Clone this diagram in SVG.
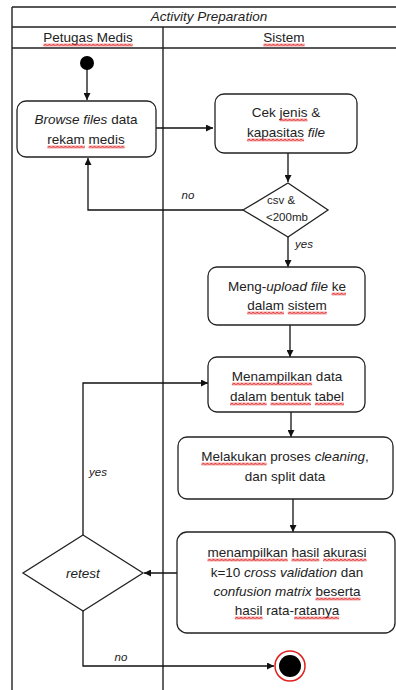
<svg xmlns="http://www.w3.org/2000/svg" width="396" height="690" viewBox="0 0 396 690">
<style>
text{font-family:"Liberation Sans",Arial,sans-serif;font-size:13.5px;fill:#222;text-anchor:middle}
.it{font-style:italic}
.sm{font-size:11.5px;text-anchor:start}
.lbl{font-size:11.5px;font-style:italic}
.wv{fill:url(#wave)}
.frame{stroke:#222;stroke-width:1.4;fill:none}
.box{fill:#fff;stroke:#222;stroke-width:1.3}
.ln{fill:none;stroke:#111;stroke-width:1.3}
</style>
<defs>
<marker id="ah" viewBox="0 0 10 10" refX="10" refY="5" markerWidth="7" markerHeight="7" markerUnits="userSpaceOnUse" orient="auto">
<path d="M0,0 L10,5 L0,10 z" fill="#111"/>
</marker>
<pattern id="wave" patternUnits="userSpaceOnUse" width="4" height="3">
<path d="M0,2.5 L2,0.5 L4,2.5" fill="none" stroke="#e02020" stroke-width="1.2"/>
</pattern>
</defs>
<rect width="396" height="690" fill="#fff"/>
<g id="swimlanes">
<path class="frame" d="M12,7 H396 M12,27 H396 M12,48 H396 M12,7 V690 M163,27 V690"/>
<text class="it" x="209" y="21">Activity Preparation</text>
<text x="88" y="42">Petugas Medis</text>
<text x="284" y="42">Sistem</text>
</g>
<g id="connectors">
<path class="ln" d="M87,63 V100" marker-end="url(#ah)"/>
<path class="ln" d="M156,128 H213" marker-end="url(#ah)"/>
<path class="ln" d="M288,153 V182" marker-end="url(#ah)"/>
<path class="ln" d="M243,210 H88 V158" marker-end="url(#ah)"/>
<path class="ln" d="M288,237 V267" marker-end="url(#ah)"/>
<path class="ln" d="M290,325 V357" marker-end="url(#ah)"/>
<path class="ln" d="M291,412 V437" marker-end="url(#ah)"/>
<path class="ln" d="M293,499 V532" marker-end="url(#ah)"/>
<path class="ln" d="M177,573 H144" marker-end="url(#ah)"/>
<path class="ln" d="M83,535 V383 H208" marker-end="url(#ah)"/>
<path class="ln" d="M83,611 V666 H274" marker-end="url(#ah)"/>
<text class="lbl" x="188" y="199">no</text>
<text class="lbl" x="304" y="248">yes</text>
<text class="lbl" x="98" y="476">yes</text>
<text class="lbl" x="121" y="661">no</text>
</g>
<g id="start">
<circle cx="87" cy="63" r="7" fill="#000"/>
</g>
<g id="browse">
<rect class="box" x="17" y="101" width="139" height="56" rx="9"/>
<text x="86" y="124"><tspan class="it">Browse files</tspan> data</text>
<text x="86" y="144">rekam medis</text>
</g>
<g id="cek">
<rect class="box" x="215" y="94" width="142" height="59" rx="9"/>
<text x="286" y="117">Cek jenis &amp;</text>
<text x="286" y="137">kapasitas <tspan class="it">file</tspan></text>
</g>
<g id="check">
<polygon class="box" points="288,183 328,210 288,237 243,210"/>
<text class="sm" x="267" y="204">csv &amp;</text>
<text class="sm" x="266" y="221">&lt;200mb</text>
</g>
<g id="upload">
<rect class="box" x="208" y="267" width="157" height="58" rx="9"/>
<text x="287" y="291">Meng-<tspan class="it">upload file</tspan> ke</text>
<text x="287" y="310">dalam sistem</text>
</g>
<g id="tabel">
<rect class="box" x="208" y="357" width="157" height="55" rx="9"/>
<text x="287" y="381">Menampilkan data</text>
<text x="287" y="401">dalam bentuk tabel</text>
</g>
<g id="cleaning">
<rect class="box" x="178" y="437" width="215" height="62" rx="9"/>
<text x="285" y="461">Melakukan proses <tspan class="it">cleaning</tspan>,</text>
<text x="285" y="481">dan split data</text>
</g>
<g id="hasil">
<rect class="box" x="177" y="532" width="218" height="101" rx="10"/>
<text x="287" y="557">menampilkan hasil akurasi</text>
<text x="287" y="577">k=10 <tspan class="it">cross validation</tspan> dan</text>
<text x="287" y="596"><tspan class="it">confusion matrix</tspan> beserta</text>
<text x="287" y="615">hasil rata-ratanya</text>
</g>
<g id="retest">
<polygon class="box" points="83,535 143,573 83,611 23,573"/>
<text class="it" x="83" y="578">retest</text>
</g>
<g id="end">
<circle cx="290" cy="666" r="15" fill="#fff" stroke="#e02020" stroke-width="1.5"/>
<circle cx="290" cy="666" r="11" fill="#000"/>
</g>
<g id="spellcheck">
<rect class="wv" transform="translate(43.4,43.5)" width="89.3" height="3"/>
<rect class="wv" transform="translate(263.4,43.5)" width="41.2" height="3"/>
<rect class="wv" transform="translate(47.4,145.5)" width="37.5" height="3"/>
<rect class="wv" transform="translate(88.6,145.5)" width="36" height="3"/>
<rect class="wv" transform="translate(279.6,118.5)" width="27.8" height="3"/>
<rect class="wv" transform="translate(247,138.5)" width="57" height="3"/>
<rect class="wv" transform="translate(331.6,292.5)" width="14.3" height="3"/>
<rect class="wv" transform="translate(247.2,311.5)" width="36.8" height="3"/>
<rect class="wv" transform="translate(287.8,311.5)" width="39" height="3"/>
<rect class="wv" transform="translate(231.9,382.5)" width="80.2" height="3"/>
<rect class="wv" transform="translate(230,402.5)" width="36.7" height="3"/>
<rect class="wv" transform="translate(270.5,402.5)" width="40.5" height="3"/>
<rect class="wv" transform="translate(314.8,402.5)" width="29.2" height="3"/>
<rect class="wv" transform="translate(201.4,462.5)" width="65.2" height="3"/>
<rect class="wv" transform="translate(207.5,558.5)" width="80.3" height="3"/>
<rect class="wv" transform="translate(291.5,558.5)" width="27.8" height="3"/>
<rect class="wv" transform="translate(323,558.5)" width="43.5" height="3"/>
<rect class="wv" transform="translate(315.5,597.5)" width="45" height="3"/>
<rect class="wv" transform="translate(234.9,616.5)" width="27.7" height="3"/>
<rect class="wv" transform="translate(294.1,616.5)" width="45" height="3"/>
</g>
</svg>
